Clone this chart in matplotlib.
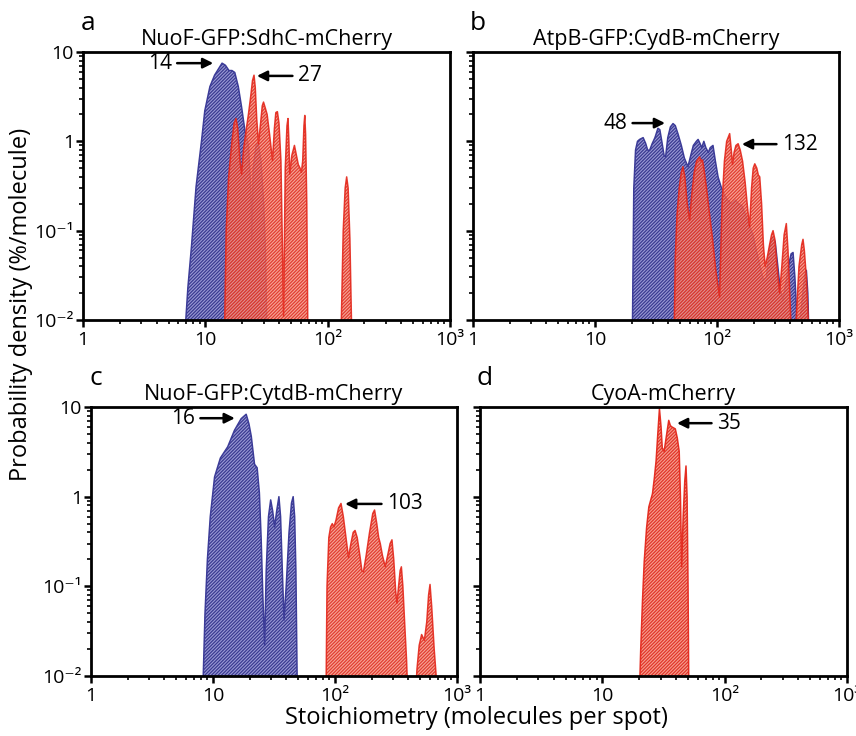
import matplotlib
matplotlib.use("Agg")
import matplotlib.pyplot as plt
from matplotlib.ticker import FixedLocator, LogLocator, NullFormatter, FixedFormatter

plt.rcParams['font.family'] = ['Open Sans', 'DejaVu Sans']
plt.rcParams['hatch.linewidth'] = 0.9

# ---------------- data ----------------
# panel a
a_blue_x = [6.7, 7.2, 7.7, 8.4, 9.3, 9.9, 10.9, 11.9, 13.1, 13.7, 14.6, 15.6, 16.5, 17.4, 18.6, 19.8, 21.1,
            22.5, 23.5, 24.0, 24.6, 26.0, 27.1, 28.5, 30.0, 31.0, 32.0]
a_blue_y = [0.005, 0.023, 0.066, 0.31, 1.0, 2.2, 4.1, 5.5, 6.8, 7.5, 7.1, 6.2, 6.2, 5.9, 4.1, 2.4, 1.3,
            0.9, 0.3, 0.08, 0.5, 0.9, 0.95, 0.6, 0.2, 0.06, 0.005]
a_red_x = [14.3, 14.8, 15.5, 16.5, 17.2, 17.8, 18.4, 19.2, 19.8, 20.5, 21.5, 22.5, 23.5, 24.3, 25.0, 25.6,
           26.3, 27.2, 28.3, 29.2, 29.9, 30.8, 32.0, 33.5, 35.4, 36.7, 37.7, 38.8, 40.0, 41.5, 42.8, 43.6,
           45.0, 46.5, 47.4, 48.2, 49.0, 51.0, 53.5, 55.5, 57.5, 59.5, 61.0, 62.5, 64.0, 65.0, 66.0, 67.5, 69.0,
           128, 134, 139, 143, 147, 152, 158]
a_red_y = [0.005, 0.1, 0.4, 1.0, 1.6, 1.8, 1.4, 0.6, 0.43, 0.8, 1.3, 2.0, 3.2, 4.8, 5.5, 4.0,
           1.8, 0.94, 1.6, 2.5, 2.75, 2.4, 2.0, 1.2, 0.61, 1.4, 2.1, 2.15, 1.6, 0.6, 0.05, 0.011,
           0.5, 1.5, 1.8, 1.0, 0.43, 0.7, 0.9, 0.7, 0.55, 0.5, 0.45, 0.6, 1.5, 1.95, 1.2, 0.2, 0.005,
           0.005, 0.1, 0.3, 0.4, 0.3, 0.08, 0.005]

# panel b
b_blue_x = [20.2, 20.8, 21.5, 22.3, 23.2, 24.8, 26, 27, 28, 29.5, 31, 32.8, 34, 35.5, 36.8, 37.9, 39.5, 41.5,
            43.6, 45.5, 48, 51, 54, 57.8, 61, 64, 67.7, 70, 72.5, 75, 78, 81, 85, 88, 92.7, 97, 102, 108,
            115, 122, 132, 142, 150, 160, 172, 185, 197, 210, 225, 240, 254, 268, 280, 288, 300, 315, 330,
            347, 365, 385, 405, 420, 435, 450, 465, 480, 505, 525, 540, 555, 570]
b_blue_y = [0.005, 0.3, 0.8, 1.0, 1.05, 1.1, 0.95, 0.8, 0.79, 0.95, 1.1, 1.4, 1.35, 0.95, 0.7, 0.67, 1.1, 1.45,
            1.58, 1.5, 1.2, 0.9, 0.65, 0.52, 0.7, 0.9, 1.0, 1.05, 0.95, 0.85, 1.0, 0.85, 0.75, 0.85, 0.9, 0.6,
            0.4, 0.31, 0.25, 0.22, 0.2, 0.22, 0.2, 0.19, 0.15, 0.11, 0.09, 0.06, 0.04, 0.028, 0.03, 0.06, 0.08,
            0.085, 0.075, 0.04, 0.022, 0.017, 0.025, 0.04, 0.055, 0.057, 0.03, 0.012, 0.008, 0.01, 0.02, 0.032,
            0.036, 0.02, 0.005]
b_red_x = [44.4, 45.5, 47, 49, 51, 52.6, 54.5, 57, 59.7, 62, 65, 68, 72, 74, 76, 78, 82, 87, 92, 98, 105,
           110, 115, 120, 127, 131, 134, 138, 143, 149, 155, 162, 170, 178, 185, 192, 198, 204, 212, 218,
           224, 232, 240, 248, 258, 270, 280, 288, 298, 310, 326, 340, 355, 370, 382, 395, 405, 420, 445,
           470, 495, 507, 520, 540, 560, 570]
b_red_y = [0.005, 0.05, 0.15, 0.3, 0.45, 0.52, 0.4, 0.2, 0.13, 0.25, 0.45, 0.6, 0.67, 0.6, 0.62, 0.5, 0.3,
           0.15, 0.08, 0.035, 0.018, 0.2, 0.6, 1.0, 1.22, 0.8, 0.55, 0.75, 0.9, 0.94, 0.8, 0.6, 0.35, 0.18,
           0.11, 0.3, 0.5, 0.56, 0.5, 0.42, 0.4, 0.2, 0.07, 0.04, 0.05, 0.07, 0.09, 0.1, 0.08, 0.04, 0.02,
           0.04, 0.09, 0.12, 0.06, 0.02, 0.008, 0.006, 0.01, 0.04, 0.07, 0.08, 0.06, 0.03, 0.01, 0.005]

# panel c
c_blue_x = [8.2, 8.6, 9.0, 9.5, 10.3, 11.5, 13.2, 15, 17, 18.7, 19.7, 20.6, 21.9, 23, 24, 24.8, 25.6, 26.5,
            27.3, 28.5, 29.7, 30.8, 32, 33.3, 34.7, 35.8, 37, 38.2, 39.8, 42, 44, 45.4, 46.7, 47.8, 49.2]
c_blue_y = [0.005, 0.05, 0.2, 0.6, 1.66, 2.7, 3.6, 5.5, 7.4, 8.3, 6.5, 4.7, 2.3, 2.1, 1.1, 0.35, 0.08, 0.022,
            0.15, 0.6, 0.92, 0.7, 0.46, 0.7, 1.0, 0.6, 0.15, 0.042, 0.1, 0.4, 0.85, 1.0, 0.6, 0.15, 0.005]
c_red_x = [84.3, 86, 89, 92, 95, 98, 102, 107, 112, 117, 123, 129, 135, 141, 146, 152, 160, 166, 171, 180,
           192, 204, 211, 220, 228, 235, 245, 258, 270, 283, 293, 303, 314, 322, 332, 342, 350, 360, 372,
           386, 397,
           453, 470, 490, 513, 540, 565, 585, 601, 620, 650, 675, 698]
c_red_y = [0.005, 0.1, 0.35, 0.46, 0.5, 0.46, 0.55, 0.75, 0.84, 0.6, 0.35, 0.21, 0.3, 0.4, 0.42, 0.35, 0.22,
           0.15, 0.145, 0.22, 0.4, 0.65, 0.71, 0.5, 0.35, 0.3, 0.22, 0.166, 0.22, 0.3, 0.33, 0.2, 0.09, 0.065,
           0.1, 0.15, 0.165, 0.1, 0.04, 0.015, 0.005,
           0.005, 0.012, 0.022, 0.029, 0.025, 0.04, 0.08, 0.105, 0.06, 0.02, 0.01, 0.005]

# panel d
d_red_x = [20, 20.6, 21.3, 22, 23, 24, 25.7, 26.6, 27.5, 28.4, 29.3, 30.2, 30.9, 32, 33.2, 34.9, 36, 37,
           39.5, 41, 42.5, 43.5, 44.5, 45.8, 47.2, 48.3, 49.3, 50.2, 51]
d_red_y = [0.005, 0.02, 0.07, 0.19, 0.45, 0.77, 1.08, 1.6, 2.5, 5.0, 9.6, 6.0, 3.5, 3.2, 4.5, 7.1, 6.2, 6.0,
           5.7, 4.5, 3.2, 1.0, 0.166, 0.6, 1.5, 2.2, 1.0, 0.1, 0.005]

titles = ["NuoF-GFP:SdhC-mCherry", "AtpB-GFP:CydB-mCherry", "NuoF-GFP:CytdB-mCherry", "CyoA-mCherry"]
letters = ["a", "b", "c", "d"]
x_ticks = [1, 10, 100, 1000]
x_ticklabels = ["1", "10", "10²", "10³"]
y_ticks = [0.01, 0.1, 1, 10]
y_ticklabels = ["10⁻²", "10⁻¹", "1", "10"]

# annotations: (label, tip x, tip y, tail x, tail y, text side)
ann_a = [("14", 11.6, 7.5, 5.3, 7.5, "right"), ("27", 26.4, 5.4, 57.2, 5.4, "left")]
ann_b = [("48", 37.5, 1.6, 18.3, 1.6, "right"), ("132", 160, 0.93, 341, 0.93, "left")]
ann_c = [("16", 15.1, 7.5, 7.1, 7.5, "right"), ("103", 121, 0.83, 267, 0.83, "left")]
ann_d = [("35", 40.8, 6.6, 86.7, 6.6, "left")]

BLUE_FACE, BLUE_HATCH, BLUE_EDGE = "#9a9ad6", "#3a3a90", "#3c3c98"
RED_FACE, RED_HATCH, RED_EDGE = "#f6907e", "#dc2418", "#e4281c"

W, H = 856, 736
fig = plt.figure(figsize=(W / 100, H / 100), dpi=100)

boxes = [(83, 450, 52, 320), (473, 839, 52, 320), (91, 457, 407, 676), (480, 847, 407, 676)]
axes = []
for (l, r, t, b) in boxes:
    ax = fig.add_axes([l / W, 1 - b / H, (r - l) / W, (b - t) / H])
    axes.append(ax)


def draw(ax, x, y, face, hatch, edge, alpha, z):
    ax.fill_between(x, y, 1e-4, facecolor=face, edgecolor='none', linewidth=0, alpha=alpha, zorder=z)
    ax.fill_between(x, y, 1e-4, facecolor='none', edgecolor=hatch, hatch='//////////', linewidth=0,
                    alpha=alpha, zorder=z + 0.1)
    ax.plot(x, y, color=edge, linewidth=1.1, alpha=min(1, alpha + 0.1), zorder=z + 0.2)


draw(axes[0], a_blue_x, a_blue_y, BLUE_FACE, BLUE_HATCH, BLUE_EDGE, 1.0, 2)
draw(axes[0], a_red_x, a_red_y, RED_FACE, RED_HATCH, RED_EDGE, 0.8, 3)
draw(axes[1], b_blue_x, b_blue_y, BLUE_FACE, BLUE_HATCH, BLUE_EDGE, 1.0, 2)
draw(axes[1], b_red_x, b_red_y, RED_FACE, RED_HATCH, RED_EDGE, 0.8, 3)
draw(axes[2], c_blue_x, c_blue_y, BLUE_FACE, BLUE_HATCH, BLUE_EDGE, 1.0, 2)
draw(axes[2], c_red_x, c_red_y, RED_FACE, RED_HATCH, RED_EDGE, 0.8, 3)
draw(axes[3], d_red_x, d_red_y, RED_FACE, RED_HATCH, RED_EDGE, 0.85, 3)

for i, ax in enumerate(axes):
    ax.set_xscale('log')
    ax.set_yscale('log')
    ax.set_xlim(1, 1000)
    ax.set_ylim(0.01, 10)
    for s in ax.spines.values():
        s.set_linewidth(2.0)
        s.set_color('black')
        s.set_zorder(10)
    ax.xaxis.set_major_locator(FixedLocator(x_ticks))
    ax.xaxis.set_major_formatter(FixedFormatter(x_ticklabels))
    ax.xaxis.set_minor_locator(LogLocator(base=10, subs=range(2, 10)))
    ax.xaxis.set_minor_formatter(NullFormatter())
    ax.yaxis.set_major_locator(FixedLocator(y_ticks))
    ax.yaxis.set_minor_locator(LogLocator(base=10, subs=range(2, 10)))
    ax.yaxis.set_minor_formatter(NullFormatter())
    if i in (0, 2):
        ax.yaxis.set_major_formatter(FixedFormatter(y_ticklabels))
    else:
        ax.yaxis.set_major_formatter(NullFormatter())
    ax.tick_params(which='major', direction='out', length=5, width=1.8, labelsize=14, pad=1.5)
    ax.tick_params(which='minor', direction='out', length=3, width=1.2)
    ax.tick_params(axis='x', which='major', pad=3)
    ax.set_title(titles[i], fontsize=15.5, pad=5)
    ax.text(-0.005 if i in (0, 2) else -0.01, 1.06, letters[i], transform=ax.transAxes,
            fontsize=19, ha='left', va='bottom')

for ax, anns in zip(axes, [ann_a, ann_b, ann_c, ann_d]):
    for lab, tx, ty, sx, sy, side in anns:
        ax.annotate(lab, xy=(tx, ty), xytext=(sx, sy), fontsize=15,
                    ha='right' if side == 'right' else 'left', va='center', zorder=20,
                    arrowprops=dict(arrowstyle='-|>', color='black', lw=1.8,
                                    mutation_scale=15, shrinkA=2, shrinkB=0))

fig.text(0.024, 0.586, "Probability density (%/molecule)", rotation=90, fontsize=17,
         ha='center', va='center')
fig.text(0.557, 0.024, "Stoichiometry (molecules per spot)", fontsize=17, ha='center', va='center')

fig.savefig("out.png", dpi=100)
